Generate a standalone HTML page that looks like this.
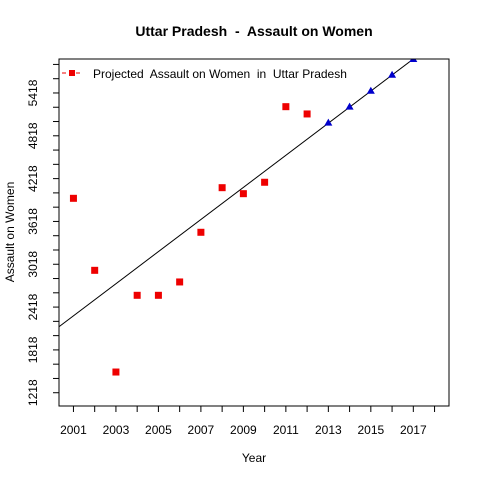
<!DOCTYPE html>
<html><head><meta charset="utf-8"><style>
body{margin:0;background:#fff}
svg{display:block;font-family:"Liberation Sans",Arial,sans-serif}
text{white-space:pre}
</style></head><body>
<svg id="chart" width="480" height="480" viewBox="0 0 480 480">
<rect width="480" height="480" fill="#fff"/>
<text x="254" y="36" text-anchor="middle" font-size="14" font-weight="bold" xml:space="preserve">Uttar Pradesh  -  Assault on Women</text>
<text x="254" y="462" text-anchor="middle" font-size="12">Year</text>
<text transform="translate(14,232) rotate(-90)" text-anchor="middle" font-size="12">Assault on Women</text>
<defs><clipPath id="plotclip"><rect x="59" y="59" width="390" height="347"/></clipPath></defs>
<g id="marks"></g>
<rect x="59" y="59" width="390" height="347" fill="none" stroke="#000"/>
<g>
<line x1="62" y1="73" x2="82" y2="73" stroke="#e00" stroke-dasharray="4,3"/>
<rect x="69" y="70" width="6" height="6" fill="#e00"/>
<text x="93" y="78" font-size="12" xml:space="preserve">Projected  Assault on Women  in  Uttar Pradesh</text>
</g>
</svg>
<script>
const years=[2001,2002,2003,2004,2005,2006,2007,2008,2009,2010,2011,2012];
const actual=[3942,2933,1508,2583,2583,2770,3466,4091,4007,4167,5226,5124];
const projYears=[2013,2014,2015,2016,2017];
const projected=[5002,5226,5450,5674,5894];
const xTicks=[2001,2003,2005,2007,2009,2011,2013,2015,2017];
const xMinorTicks=[2001,2002,2003,2004,2005,2006,2007,2008,2009,2010,2011,2012,2013,2014,2015,2016,2017,2018];
const yTicks=[1218,1818,2418,3018,3618,4218,4818,5418];
const fitIntercept=2143, fitSlope=224.9, fitX0=2000.32;

const NS="http://www.w3.org/2000/svg";
const xMin=2000.32,xMax=2018.68,yMin=1032,yMax=5894;
const L=59,R=449,T=59,B=406;
const sx=v=>L+(v-xMin)/(xMax-xMin)*(R-L);
const sy=v=>B-(v-yMin)/(yMax-yMin)*(B-T);
const g=document.getElementById('marks');
function mk(tag,attrs,parent){const e=document.createElementNS(NS,tag);for(const k in attrs)e.setAttribute(k,attrs[k]);(parent||g).appendChild(e);return e;}

xMinorTicks.forEach(v=>{
 const t=mk('line',{x1:sx(v),x2:sx(v),y1:B,y2:B+6,stroke:'#000'});
 
 
});
xTicks.forEach(v=>{
 const t=mk('text',{x:sx(v),y:B+28,'text-anchor':'middle','font-size':12});
 t.textContent=v;
 
 
});
for(let v=1218;v<=yMax;v+=200){
 const t=mk('line',{x1:L-6,x2:L,y1:sy(v),y2:sy(v),stroke:'#000'});
 
 
}
yTicks.forEach(v=>{
 const t=mk('text',{transform:`translate(${L-22},${sy(v)}) rotate(-90)`,'text-anchor':'middle','font-size':12});
 t.textContent=v;
 
 
});
const fit=x=>fitIntercept+fitSlope*(x-fitX0);
const ln=mk('line',{x1:sx(xMin),y1:sy(fit(xMin)),x2:sx(xMax),y2:sy(fit(xMax)),stroke:'#000','clip-path':'url(#plotclip)'});


years.forEach((y,i)=>{
 const r=mk('rect',{x:sx(y)-3.5,y:sy(actual[i])-3.5,width:7,height:7,fill:'#e00'});
 
 
});
projYears.forEach((y,i)=>{
 const cx=sx(y),cy=sy(projected[i]);
 const p=mk('polygon',{points:`${cx},${cy-4} ${cx-4},${cy+3} ${cx+4},${cy+3}`,fill:'#00c','clip-path':'url(#plotclip)'});
 
 
});
</script>
</body></html>
